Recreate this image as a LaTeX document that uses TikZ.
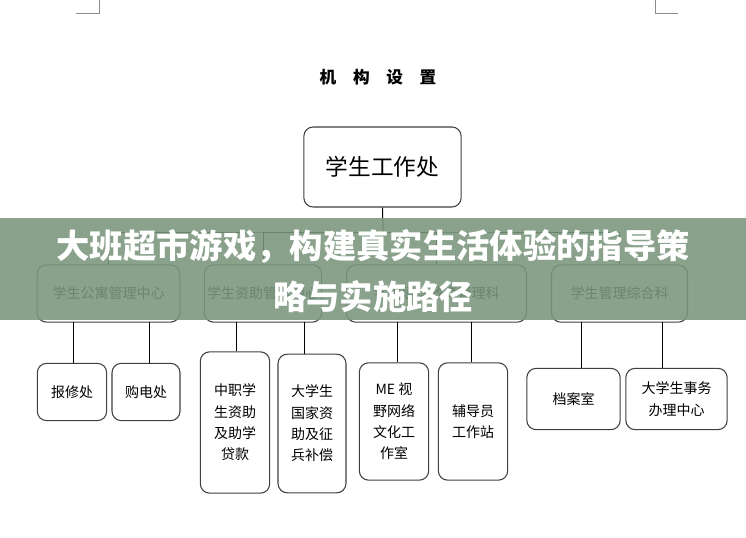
\documentclass[tikz,border=0pt]{standalone}
\usepackage{fontspec}
\setmainfont{Noto Sans CJK SC}
\begin{document}
\begin{tikzpicture}[x=0.75pt,y=-0.75pt,
  box/.style={draw=black!75,line width=0.8pt,rounded corners=7pt,inner sep=2pt,align=center},
  conn/.style={draw=black,line width=0.7pt},
  cornermark/.style={draw=black!45,line width=0.6pt}]
\useasboundingbox (0,0) rectangle (746,538);
\fill[white] (0,0) rectangle (746,538);
\draw[cornermark] (76,13) -- (99,13) -- (99,0);
\draw[cornermark] (678,13) -- (655,13) -- (655,0);
\node (title) at (378,77) {\bfseries\fontsize{12.5}{14}\selectfont 机\hspace{1em}构\hspace{1em}设\hspace{1em}置};
\node[box,minimum width=118pt,minimum height=60pt,font=\fontsize{17}{20}\selectfont] (top) at (382.5,167) {学生工作处};
\coordinate (bus) at (383,232);
\tikzset{l2/.style={box,minimum height=43pt,font=\fontsize{10.5}{13}\selectfont}}
\node[l2,minimum width=107pt] (a) at (108.5,293.5) {学生公寓管理中心};
\node[l2,minimum width=85pt] (b) at (263,293.5) {学生资助管理中心};
\node[l2,minimum width=135pt] (c) at (436.5,293.5) {学生思想教育管理科};
\node[l2,minimum width=102pt] (d) at (619.5,293.5) {学生管理综合科};
\draw[conn] (top.south) -- (bus);
\draw[conn] (a.north) |- (bus) -| (d.north);
\draw[conn] (b.north) |- (bus);
\draw[conn] (c.north) |- (bus);
\tikzset{lf/.style={box,font=\fontsize{10.5}{16}\selectfont}}
\node[lf,minimum width=52pt,minimum height=43pt] (a1) at (72,392) {报修处};
\node[lf,minimum width=51pt,minimum height=43pt] (a2) at (146,392) {购电处};
\node[lf,minimum width=52pt,minimum height=106pt] (b1) at (235,422.5) {中职学\\生资助\\及助学\\贷款};
\node[lf,minimum width=51pt,minimum height=104pt] (b2) at (312,423.5) {大学生\\国家资\\助及征\\兵补偿};
\node[lf,minimum width=52pt,minimum height=88pt] (c1) at (394,421.5) {ME 视\\野网络\\文化工\\作室};
\node[lf,minimum width=52pt,minimum height=88pt] (c2) at (473,421.5) {辅导员\\工作站};
\node[lf,minimum width=70pt,minimum height=46pt] (d1) at (573.5,399) {档案室};
\node[lf,minimum width=76pt,minimum height=46pt] (d2) at (676.5,399) {大学生事务\\办理中心};
\draw[conn] (a1.north -| 73,0) -- (73,322);
\draw[conn] (a2.north -| 149,0) -- (149,322);
\draw[conn] (b1.north -| 236,0) -- (236,322);
\draw[conn] (b2.north -| 304,0) -- (304,322);
\draw[conn] (c1.north -| 397,0) -- (397,322);
\draw[conn] (c2.north -| 471,0) -- (471,322);
\draw[conn] (d1.north -| 581,0) -- (581,322);
\draw[conn] (d2.north -| 662,0) -- (662,322);
\fill[fill={rgb,255:red,122;green,150;blue,125},opacity=0.88] (0,218) rectangle (746,320);
\node[text=white,align=center,font=\bfseries\fontsize{25}{38}\selectfont] (banner) at (373,271) {大班超市游戏，构建真实生活体验的指导策\\略与实施路径};
\end{tikzpicture}
\end{document}
